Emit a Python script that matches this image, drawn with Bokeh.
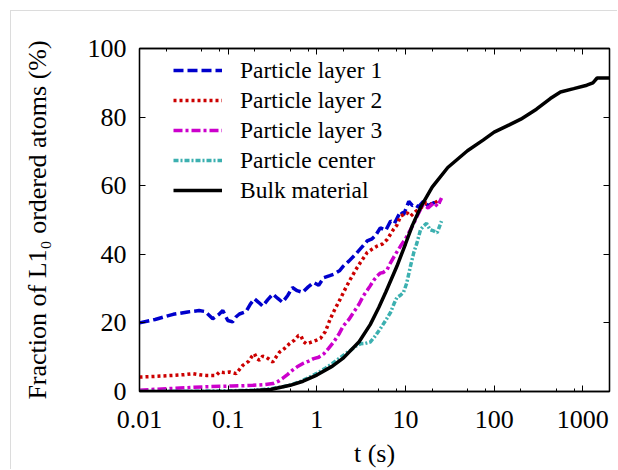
from bokeh.plotting import figure
from bokeh.models import (FixedTicker, LinearAxis, LogAxis, Legend, LegendItem,
                          CustomJSTickFormatter)
from bokeh.embed import file_html
from bokeh.resources import INLINE

# ---------------- data ----------------
t_layer1 = [0.01, 0.015, 0.024, 0.035, 0.047, 0.055, 0.067, 0.078, 0.087, 0.099,
            0.112, 0.123, 0.134, 0.159, 0.178, 0.198, 0.22, 0.245, 0.28, 0.319,
            0.36, 0.41, 0.47, 0.53, 0.6, 0.69, 0.8, 0.92, 1.05, 1.2, 1.4, 1.55,
            1.8, 2.0, 2.3, 2.73, 3.2, 3.7, 4.2, 4.6, 5.2, 6.0, 6.8, 7.5, 8.8,
            9.5, 10.9, 12.0, 12.8, 14.0, 15.9, 18.0, 20.8, 25.0]
v_layer1 = [20.0, 21.0, 22.5, 23.2, 23.6, 23.3, 21.2, 22.4, 23.6, 20.7,
            20.3, 21.8, 22.6, 23.3, 25.5, 27.0, 26.0, 24.9, 26.8, 28.4,
            27.2, 26.0, 28.0, 30.3, 29.4, 28.9, 30.5, 31.8, 31.0, 33.2, 33.8, 34.2,
            35.2, 36.6, 38.0, 40.0, 42.0, 43.9, 44.5, 45.5, 47.7, 47.0, 49.7, 49.0, 52.5,
            51.5, 55.4, 54.2, 54.5, 53.8, 55.4, 54.2, 55.0, 55.3]

t_layer2 = [0.01, 0.015, 0.024, 0.032, 0.04, 0.05, 0.056, 0.073, 0.08, 0.09,
            0.103, 0.123, 0.135, 0.146, 0.17, 0.185, 0.198, 0.212, 0.226, 0.245,
            0.268, 0.29, 0.319, 0.35, 0.38, 0.43, 0.49, 0.56, 0.62, 0.66, 0.71,
            0.76, 0.85, 0.98, 1.1, 1.25, 1.42, 1.6, 1.84, 2.1, 2.4, 2.75, 3.1,
            3.7, 4.2, 4.8, 5.5, 6.2, 7.3, 8.0, 8.8, 10.4, 11.4, 13.0, 15.0, 17.0,
            20.0, 24.5]
v_layer2 = [4.2, 4.4, 4.7, 4.9, 5.2, 4.8, 4.7, 4.7, 5.7, 5.5,
            5.7, 5.2, 6.5, 7.6, 8.8, 10.2, 11.0, 9.5, 9.1, 10.3,
            10.0, 9.4, 8.6, 10.2, 11.5, 12.5, 13.9, 15.0, 16.3, 16.3, 14.5,
            13.9, 14.3, 14.9, 15.5, 17.5, 21.2, 24.0, 27.0, 30.0, 32.8, 35.5, 37.6,
            40.5, 41.5, 42.4, 43.0, 44.3, 47.2, 48.5, 51.1, 52.1, 51.1, 52.5, 53.5, 55.0,
            54.5, 56.0]

t_layer3 = [0.01, 0.024, 0.056, 0.11, 0.15, 0.19, 0.25, 0.32, 0.37, 0.41, 0.47,
            0.53, 0.6, 0.69, 0.8, 0.92, 1.05, 1.2, 1.35, 1.55, 1.8, 2.0, 2.3, 2.6,
            3.0, 3.35, 3.7, 4.0, 4.4, 4.8, 5.2, 5.6, 6.2, 6.8, 7.7, 8.8, 10.0,
            11.4, 12.4, 13.5, 14.7, 15.9, 18.0, 20.8, 23.0, 25.5]
v_layer3 = [0.4, 0.9, 1.4, 1.6, 1.7, 1.8, 2.0, 2.3, 3.0, 3.8, 5.0,
            6.2, 7.2, 8.1, 8.8, 9.6, 10.0, 11.0, 12.5, 14.4, 17.0, 19.2, 21.0, 23.1,
            25.5, 27.9, 29.5, 30.8, 32.5, 33.7, 34.5, 34.7, 35.5, 37.6, 40.0, 42.4, 44.5,
            47.2, 49.0, 51.1, 53.0, 54.5, 53.5, 55.0, 54.0, 56.4]

t_center = [0.01, 0.05, 0.1, 0.2, 0.3, 0.4, 0.5, 0.65, 0.8, 1.0, 1.25, 1.5, 1.8,
            2.1, 2.4, 2.75, 3.1, 3.5, 4.0, 4.5, 5.2, 6.0, 6.8, 7.4, 8.0, 8.7, 9.5,
            10.3, 11.4, 12.4, 13.5, 14.8, 15.9, 17.3, 18.9, 20.8, 22.8, 25.5]
v_center = [0.0, 0.1, 0.2, 0.4, 0.8, 1.3, 1.9, 2.9, 4.0, 5.3, 6.8, 8.2, 9.7,
            11.0, 12.0, 13.2, 13.9, 14.0, 14.4, 16.0, 18.3, 20.8, 23.1, 25.5, 27.4, 28.0, 28.9,
            31.5, 36.6, 40.5, 43.4, 47.2, 48.2, 49.0, 47.2, 46.8, 46.3, 49.7]

t_bulk = [0.01, 0.05, 0.1, 0.2, 0.3, 0.5, 0.7, 1.0, 1.5, 2.0, 3.0, 4.0, 5.0, 6.0,
          8.0, 10.0, 12.0, 15.0, 20.0, 30.0, 50.0, 75.0, 100.0, 150.0, 200.0,
          300.0, 430.0, 560.0, 790.0, 1110.0, 1300.0, 1450.0, 2000.0]
v_bulk = [0.0, 0.0, 0.1, 0.3, 0.6, 1.8, 3.0, 4.8, 7.4, 9.8, 14.5, 19.5, 24.5, 29.0,
          36.5, 43.0, 48.5, 54.0, 59.6, 65.3, 70.2, 73.3, 75.6, 77.8, 79.4,
          82.3, 85.4, 87.3, 88.3, 89.3, 90.0, 91.4, 91.4]

series_names = ["Particle layer 1", "Particle layer 2", "Particle layer 3",
                "Particle center", "Bulk material"]

x_tick_values = [0.01, 0.1, 1, 10, 100, 1000]
x_tick_labels = ["0.01", "0.1", "1", "10", "100", "1000"]
x_minor_ticks = [0.02, 0.05, 0.08, 0.2, 0.5, 0.8, 2, 5, 8, 20, 50, 80,
                 200, 500, 800]
y_tick_values = [0, 20, 40, 60, 80, 100]

FONT = "Liberation Serif"

# ---------------- figure ----------------
p = figure(width=607, height=459, x_axis_type="log",
           x_range=(0.01, 2000), y_range=(0, 100),
           output_backend="svg", toolbar_location=None,
           min_border_left=128, min_border_right=9,
           min_border_top=37, min_border_bottom=77)
p.margin = (10, 0, 0, 10)
p.styles = {"border-top": "1px solid #dcdcdc", "border-left": "1px solid #dcdcdc"}
p.grid.visible = False
p.outline_line_color = "black"
p.outline_line_width = 1.3
p.background_fill_color = "white"
p.border_fill_color = "white"

fmt = CustomJSTickFormatter(
    args=dict(vals=x_tick_values, labs=x_tick_labels),
    code="""
    for (let i = 0; i < vals.length; i++) {
        if (Math.abs(vals[i] - tick) <= 1e-9 * Math.max(1, vals[i])) return labs[i];
    }
    return "";
    """)
blank = CustomJSTickFormatter(code="return '';")


def style_axis(ax, show_labels=True):
    ax.major_tick_in = 6
    ax.major_tick_out = 0
    ax.minor_tick_in = 3
    ax.minor_tick_out = 0
    ax.axis_line_color = "black"
    ax.axis_line_width = 1.3
    ax.major_tick_line_color = "black"
    ax.minor_tick_line_color = "black"
    ax.major_tick_line_width = 1
    ax.minor_tick_line_width = 1
    ax.major_label_text_font = FONT
    ax.major_label_text_color = "black"
    ax.major_label_text_font_size = "26px"
    if not show_labels:
        ax.formatter = blank
        ax.major_label_standoff = 0


xb = p.xaxis[0]
xb.ticker = FixedTicker(ticks=x_tick_values, minor_ticks=x_minor_ticks)
xb.formatter = fmt
style_axis(xb)
xb.major_label_standoff = 19
xb.axis_label = "t (s)"
xb.axis_label_text_font = FONT
xb.axis_label_text_font_size = "26px"
xb.axis_label_text_font_style = "normal"
xb.axis_label_text_color = "black"
xb.axis_label_standoff = 8

yl = p.yaxis[0]
yl.ticker = FixedTicker(ticks=y_tick_values, minor_ticks=[])
style_axis(yl)
yl.major_label_standoff = 13
yl.axis_label = "Fraction of L1\u2080 ordered atoms (%)"
yl.axis_label_text_font = FONT
yl.axis_label_text_font_size = "26px"
yl.axis_label_text_font_style = "normal"
yl.axis_label_text_color = "black"
yl.axis_label_standoff = 33

xt = LogAxis(ticker=FixedTicker(ticks=x_tick_values, minor_ticks=x_minor_ticks))
style_axis(xt, show_labels=False)
p.add_layout(xt, "above")

yr = LinearAxis(ticker=FixedTicker(ticks=y_tick_values, minor_ticks=[]))
style_axis(yr, show_labels=False)
p.add_layout(yr, "right")

# ---------------- lines ----------------
r1 = p.line(t_layer1, v_layer1, line_color="#0000cc", line_width=3.5,
            line_dash="10 4")
r2 = p.line(t_layer2, v_layer2, line_color="#cc0000", line_width=3.5,
            line_dash="3 3")
r3 = p.line(t_layer3, v_layer3, line_color="#cc00cc", line_width=3.5,
            line_dash="9 3 3 3")
r4 = p.line(t_center, v_center, line_color="#3cb0b0", line_width=3.5,
            line_dash="5 2 2 2")
r5 = p.line(t_bulk, v_bulk, line_color="black", line_width=3.5)

legend = Legend(items=[LegendItem(label=n, renderers=[r])
                       for n, r in zip(series_names, [r1, r2, r3, r4, r5])],
                location=(34, 186))
legend.border_line_color = None
legend.background_fill_alpha = 0
legend.glyph_width = 49
legend.glyph_height = 30
legend.label_height = 30
legend.label_standoff = 18
legend.spacing = 0
legend.padding = 0
legend.margin = 0
legend.label_text_font = FONT
legend.label_text_font_size = "23.5px"
legend.label_text_color = "black"
p.add_layout(legend)

open("out.html", "w").write(file_html(p, INLINE))
